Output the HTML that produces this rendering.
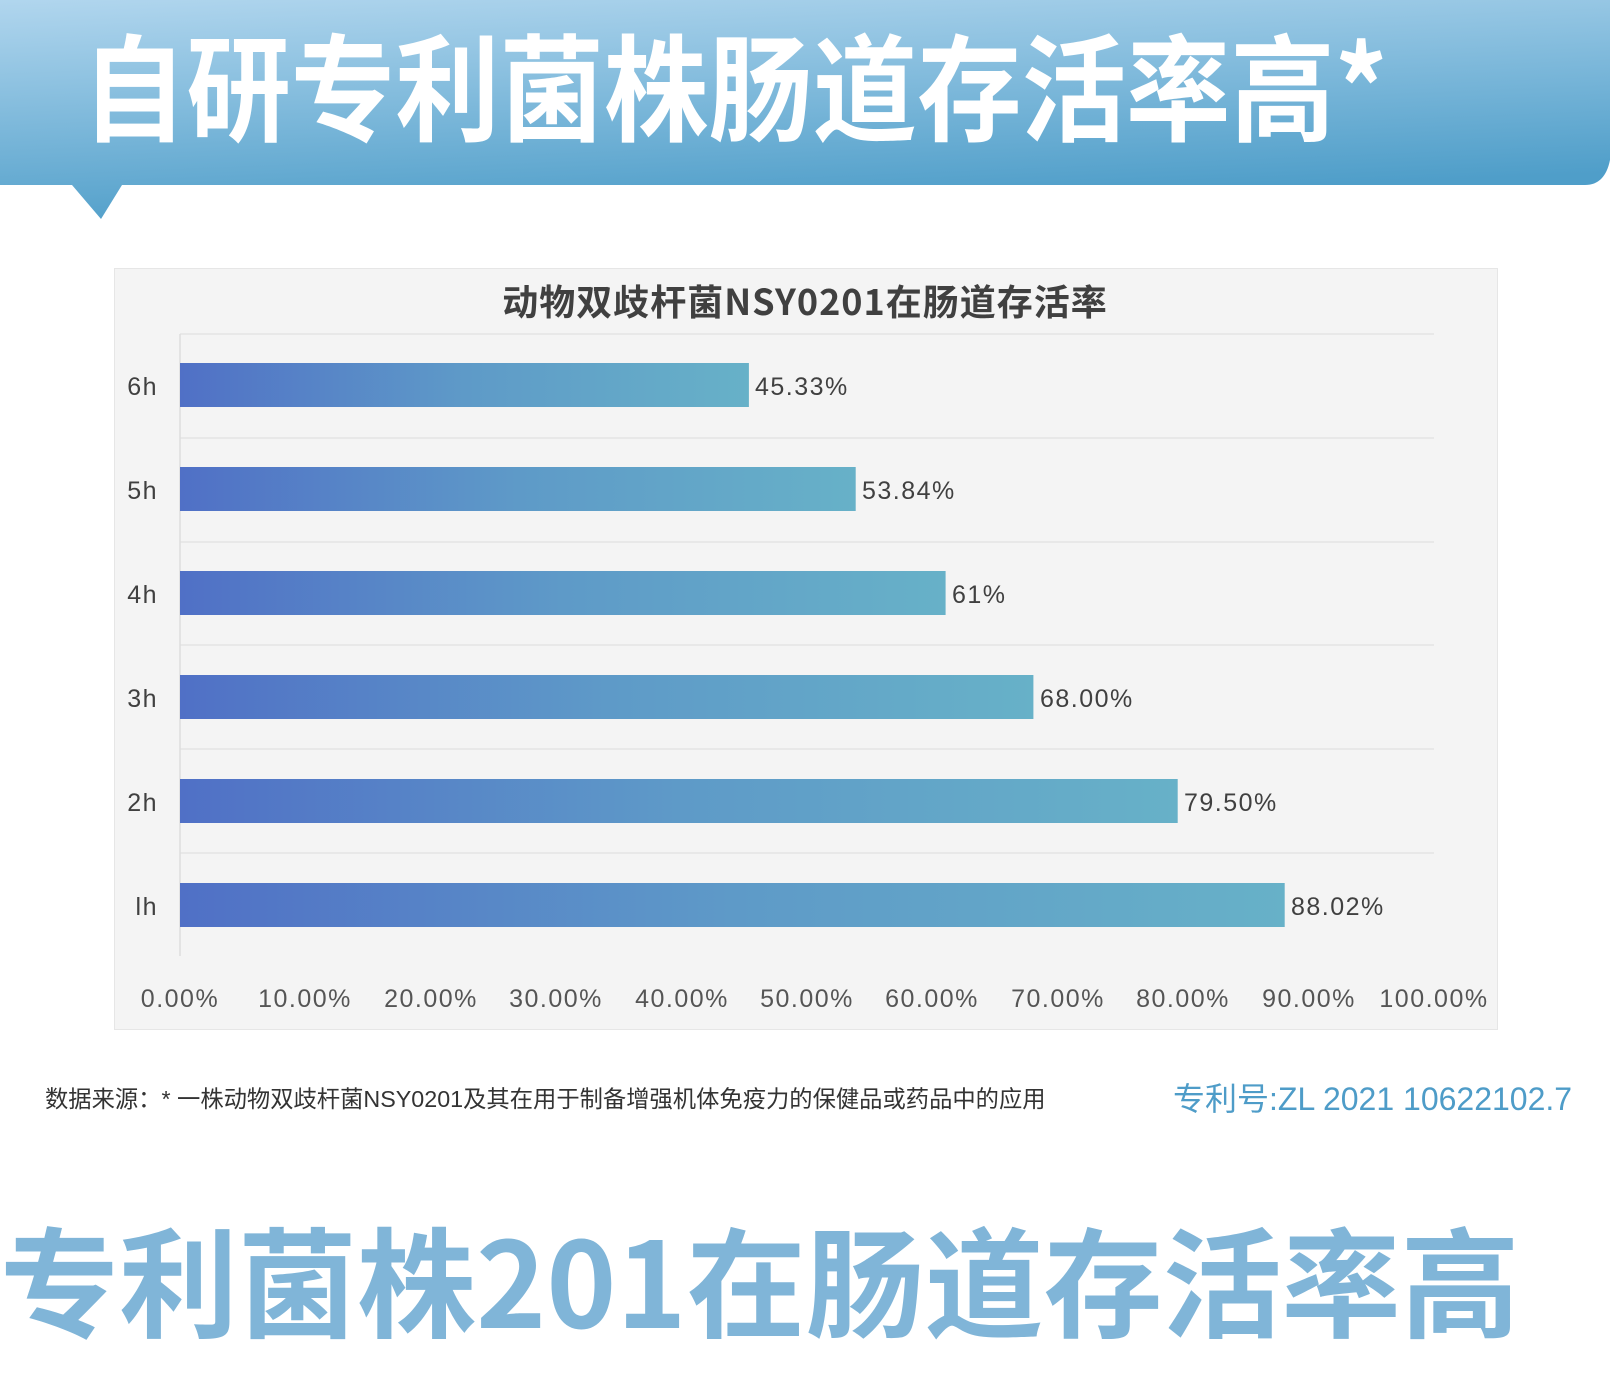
<!DOCTYPE html>
<html><head><meta charset="utf-8"><style>
body{margin:0;width:1610px;height:1374px;background:#fff;position:relative;overflow:hidden;font-family:"Liberation Sans","Noto Sans CJK SC",sans-serif}
.abs{position:absolute}
</style></head><body>
<svg class="abs" style="left:0;top:0" width="1610" height="230">
<defs><linearGradient id="bn" x1="0" y1="0" x2="0.3" y2="1"><stop offset="0" stop-color="#b1d6ee"/><stop offset="1" stop-color="#4f9ec9"/></linearGradient></defs>
<path d="M0,0 H1610 V160 Q1605,185 1585,185 H122 L101,219 L72,185 H0 Z" fill="url(#bn)"/>
</svg>
<div class="abs" style="left:82px;top:12px;font-size:116px;font-weight:bold;color:#fff;white-space:nowrap;transform:scaleX(0.9);transform-origin:left top;line-height:140px;font-family:'Noto Sans CJK SC',sans-serif">自研专利菌株肠道存活率高*</div>

<div class="abs" style="left:114px;top:274px;width:1382px;text-align:center;font-size:36px;letter-spacing:1px;font-weight:bold;color:#404040;font-family:'Noto Sans CJK SC',sans-serif">动物双歧杆菌NSY0201在肠道存活率</div>
<div class="abs" style="left:114px;top:268px;width:1382px;height:760px;background:#f4f4f4;border:1px solid #e6e6e6;z-index:-1"></div>

<svg class="abs" style="left:0;top:0" width="1610" height="1060" font-family="Liberation Sans, Noto Sans CJK SC, sans-serif">
<defs><linearGradient id="bar" x1="0" x2="1"><stop offset="0" stop-color="#5070c6"/><stop offset="0.5" stop-color="#5e9ac8"/><stop offset="1" stop-color="#67b1c8"/></linearGradient></defs>
<g stroke="#e4e4e4" stroke-width="1.5">
<line x1="180" y1="334" x2="1434" y2="334"/><line x1="180" y1="438" x2="1434" y2="438"/><line x1="180" y1="542" x2="1434" y2="542"/><line x1="180" y1="645" x2="1434" y2="645"/><line x1="180" y1="749" x2="1434" y2="749"/><line x1="180" y1="853" x2="1434" y2="853"/>
<line x1="180" y1="334" x2="180" y2="956" stroke="#ddd"/>
</g>
<g fill="#404040" font-size="25" letter-spacing="1.5">
<rect x="180" y="363" width="568.9" height="44" fill="url(#bar)"/><text x="755" y="395">45.33%</text><text x="158" y="395" text-anchor="end">6h</text>
<rect x="180" y="467" width="675.7" height="44" fill="url(#bar)"/><text x="862" y="499">53.84%</text><text x="158" y="499" text-anchor="end">5h</text>
<rect x="180" y="571" width="765.6" height="44" fill="url(#bar)"/><text x="952" y="603">61%</text><text x="158" y="603" text-anchor="end">4h</text>
<rect x="180" y="675" width="853.4" height="44" fill="url(#bar)"/><text x="1040" y="707">68.00%</text><text x="158" y="707" text-anchor="end">3h</text>
<rect x="180" y="779" width="997.7" height="44" fill="url(#bar)"/><text x="1184" y="811">79.50%</text><text x="158" y="811" text-anchor="end">2h</text>
<rect x="180" y="883" width="1104.7" height="44" fill="url(#bar)"/><text x="1291" y="915">88.02%</text><text x="158" y="915" text-anchor="end">lh</text>
</g>
<g fill="#555" font-size="25" letter-spacing="1.5" text-anchor="middle">
<text x="180" y="1007">0.00%</text><text x="305" y="1007">10.00%</text><text x="431" y="1007">20.00%</text><text x="556" y="1007">30.00%</text><text x="682" y="1007">40.00%</text><text x="807" y="1007">50.00%</text><text x="932" y="1007">60.00%</text><text x="1058" y="1007">70.00%</text><text x="1183" y="1007">80.00%</text><text x="1309" y="1007">90.00%</text><text x="1434" y="1007">100.00%</text>
</g>
</svg>

<div class="abs" style="left:45px;top:1080px;font-size:23.3px;color:#333;white-space:nowrap">数据来源：* 一株动物双歧杆菌NSY0201及其在用于制备增强机体免疫力的保健品或药品中的应用</div>
<div class="abs" style="left:1173px;top:1074px;font-size:32px;color:#4e9cc8;white-space:nowrap">专利号:ZL 2021 10622102.7</div>
<div class="abs" style="left:0;top:1202px;font-size:119px;font-weight:bold;color:#80b5d8;white-space:nowrap;line-height:150px;font-family:'Noto Sans CJK SC',sans-serif">专利菌株201在肠道存活率高</div>
</body></html>
